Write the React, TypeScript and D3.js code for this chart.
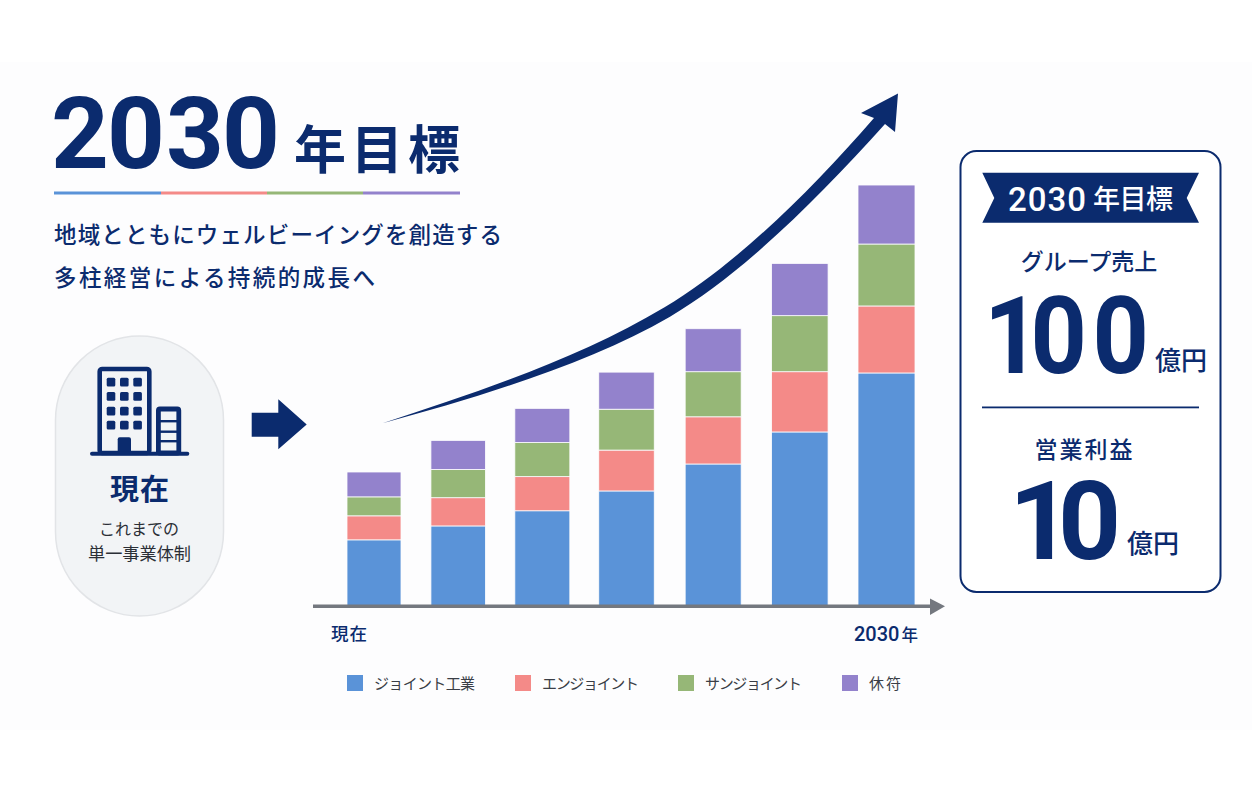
import React from "react";
import * as d3 from "d3";

const periods = ["現在", "p2", "p3", "p4", "p5", "p6", "2030年"];
const seriesNames = ["ジョイント工業", "エンジョイント", "サンジョイント", "休符"];
const joint = [15.7, 19, 22.6, 27.3, 33.7, 41.3, 55.3];
const enjoint = [5.7, 6.7, 8.1, 9.7, 11.2, 14.3, 15.9];
const sunjoint = [4.5, 6.7, 8.1, 9.7, 10.7, 13.3, 14.7];
const kyufu = [5.9, 6.9, 8.1, 8.8, 10.2, 12.4, 14.0];
const seriesColors = ["#5a93d8", "#f48a88", "#96b777", "#9382cc"];

const NAVY = "#0b2b6e";
const FONT = "'Noto Sans CJK JP', 'Noto Sans', sans-serif";
const DIGITS = "Roboto, 'Noto Sans', sans-serif";
const BG = "#fdfdfe";
const rows = periods.map((p, i) => ({ p, a: joint[i], b: enjoint[i], c: sunjoint[i], d: kyufu[i] }));
const stack = d3.stack<any>().keys(["a", "b", "c", "d"])(rows);

const y = d3.scaleLinear().domain([0, 100]).range([606, 184.6]);
const xCenter = d3.scaleLinear().domain([0, 3, 6]).range([374, 626.5, 886.5]);
const barWidth = d3.scaleLinear().domain([0, 6]).range([54, 57]);

const trend = d3.path();
trend.moveTo(382.5, 423.3);
trend.bezierCurveTo(478, 392, 580, 358, 665, 307);
trend.bezierCurveTo(735, 265, 809, 193, 874, 118);
trend.lineTo(861, 113);
trend.lineTo(898, 93.5);
trend.lineTo(895, 132);
trend.lineTo(885, 124);
trend.bezierCurveTo(817, 199, 745, 272, 670, 316.7);
trend.bezierCurveTo(590, 363, 480, 397, 382.5, 423.3);
trend.closePath();

const windowCols = [106.7, 120, 133.3];
const windowRows = [377.7, 392, 406.7, 420.7];
const ladder = [421.2, 431.7, 441.2];
const ruleStops = [54, 161, 267, 363, 460];
const legendX = [347, 515, 678, 842];
const legendLen = [101, 97, 97, 32];
const narrow = 0.91;

function T(props: any) {
  const { children, ...rest } = props;
  return <text fontFamily={FONT} fill={NAVY} {...rest}>{children}</text>;
}

export default function App() {
  return (
    <svg width={1252} height={800} style={{ position: "absolute", left: 0, top: 0, background: "#fff" }}>
      <rect x={0} y={62} width={1252} height={668} fill={BG} />

      {/* heading */}
      <T x="51 107 166 222" y={168} fontFamily={DIGITS} fontSize={101} fontWeight={700}>2030</T>
      <T x={294} y={169} fontSize={52} fontWeight={700} textLength={166} lengthAdjust="spacing">年目標</T>
      {seriesColors.map((c, i) => (
        <rect key={c} x={ruleStops[i]} y={191.5} width={ruleStops[i + 1] - ruleStops[i]} height={3} fill={c} />
      ))}
      <T x={54} y={243} fontSize={22.5} fontWeight={500} textLength={448} lengthAdjust="spacing">地域とともにウェルビーイングを創造する</T>
      <T x={54} y={286} fontSize={22.5} fontWeight={500} textLength={321} lengthAdjust="spacing">多柱経営による持続的成長へ</T>

      {/* current state capsule */}
      <rect x={55.5} y={336} width={168} height={280} rx={84} fill="#f2f4f6" stroke="#e2e4e7" strokeWidth={1.5} />
      <rect x={99.7} y={369} width={49.6} height={84} rx={2.5} fill="none" stroke={NAVY} strokeWidth={4.6} />
      {windowRows.map((wy) =>
        windowCols.map((wx) => <rect key={`${wx}-${wy}`} x={wx} y={wy} width={8.6} height={8.8} rx={1.5} fill={NAVY} />)
      )}
      <path d="M117.7,452V439.3q0,-2 2,-2h9.3q2,0 2,2V452Z" fill={NAVY} />
      <rect x={158.4} y={409} width={20.4} height={44} rx={1.5} fill="none" stroke={NAVY} strokeWidth={4.8} />
      {ladder.map((ly) => <rect key={ly} x={157} y={ly - 1.2} width={23} height={2.4} fill={NAVY} />)}
      <rect x={90} y={451.7} width={99.3} height={4} rx={2} fill={NAVY} />
      <T x={140} y={500} fontSize={29} fontWeight={700} textAnchor="middle" letterSpacing={1}>現在</T>
      <T x={139} y={535} fontSize={16} textAnchor="middle" fill="#2b2f36">これまでの</T>
      <T x={139.5} y={560} fontSize={17} textAnchor="middle" fill="#2b2f36" textLength={103} lengthAdjust="spacingAndGlyphs">単一事業体制</T>

      <path d="M251.7,412.7H278.3V399.3L306.7,424.5L278.3,449.3V436.7H251.7Z" fill={NAVY} />

      {/* stacked bars */}
      {stack.map((layer, s) => (
        <g key={s} fill={seriesColors[s]}>
          {layer.map((d, i) => (
            <rect
              key={i}
              x={xCenter(i) - barWidth(i) / 2}
              y={y(d[1])}
              width={barWidth(i)}
              height={y(d[0]) - y(d[1])}
              stroke={BG}
              strokeWidth={0.8}
            />
          ))}
        </g>
      ))}

      <path d={trend.toString()} fill={NAVY} />

      {/* axis */}
      <rect x={313} y={604.5} width={620} height={3.5} fill="#74787f" />
      <path d="M930,598.5L945,606.3L930,615Z" fill="#74787f" />
      <T x={331} y={640} fontSize={17.5} fontWeight={500} textLength={36} lengthAdjust="spacing">{periods[0]}</T>
      <T x={854} y={641} fontFamily={DIGITS} fontSize={20} fontWeight={500}>2030</T>
      <T x={901.5} y={641} fontSize={16.5} fontWeight={500}>年</T>

      {/* legend */}
      {seriesNames.map((n, i) => (
        <g key={n}>
          <rect x={legendX[i]} y={675} width={16} height={16} fill={seriesColors[i]} />
          <T x={legendX[i] + 27} y={689} fontSize={15} fill="#3a3e46" textLength={legendLen[i]} lengthAdjust="spacing">{n}</T>
        </g>
      ))}

      {/* target panel */}
      <rect x={960.5} y={151} width={260} height={441} rx={16} fill="#fff" stroke={NAVY} strokeWidth={2} />
      <path d="M982.3,172.7H1199L1186.7,198L1199,222.7H982.3L994.3,198Z" fill={NAVY} />
      <T x={1008} y={211} fontFamily={DIGITS} fontSize={33} fontWeight={500} fill="#fff" letterSpacing={1}>2030</T>
      <T x={1093} y={209} fontSize={27} fontWeight={500} fill="#fff" textLength={80} lengthAdjust="spacing">年目標</T>
      <T x={1089} y={270} fontSize={23} fontWeight={500} textAnchor="middle">グループ売上</T>
      <T
        x={[984, 1030.5, 1092.5].map((v) => v / narrow).join(" ")}
        y={373}
        transform={`scale(${narrow},1)`}
        fontFamily={DIGITS}
        fontSize={108}
        fontWeight={700}
      >
        100
      </T>
      <T x={1155} y={370} fontSize={26} fontWeight={500}>億円</T>
      <rect x={982} y={406.5} width={217} height={1.8} fill={NAVY} />
      <T x={1084.5} y={458} fontSize={23} fontWeight={500} textAnchor="middle" letterSpacing={2}>営業利益</T>
      <T x="1009 1058" y={559} fontFamily={DIGITS} fontSize={110} fontWeight={700}>10</T>
      <T x={1127} y={553} fontSize={26} fontWeight={500}>億円</T>
    </svg>
  );
}
